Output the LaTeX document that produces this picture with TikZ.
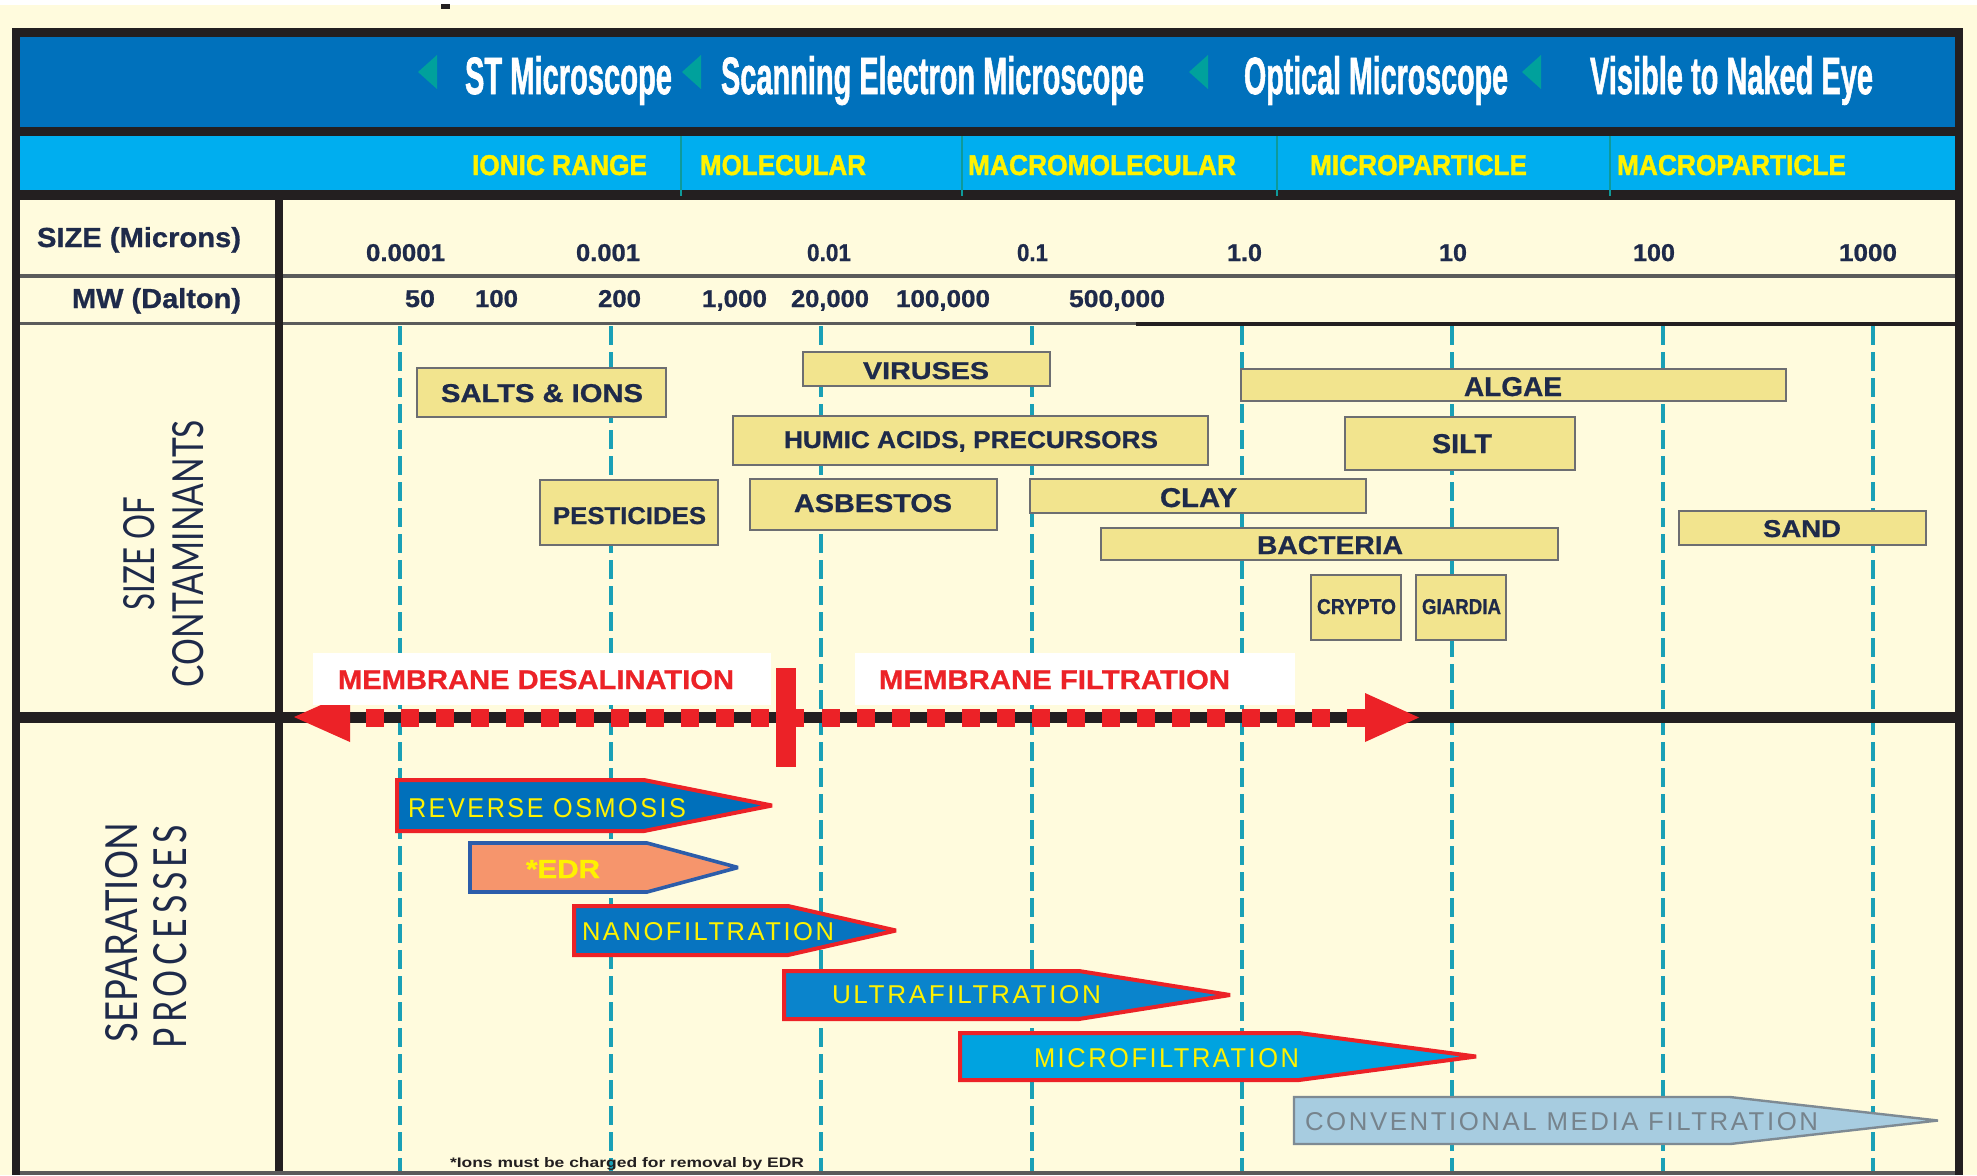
\documentclass[tikz,border=0pt]{standalone}
\usepackage{fontspec}
\usepackage{graphicx}
\setmainfont{Liberation Sans}
\newfontfamily\heavy{Liberation Sans}[BoldFeatures={FakeBold=1.6}]
\newfontfamily\semiheavy{Liberation Sans}[BoldFeatures={FakeBold=0.8}]
\newfontfamily\latof{Lato}
\newfontfamily\latosp{Lato}[LetterSpace=14]
\newfontfamily\spacedf{Liberation Sans}[LetterSpace=10]
\newlength\pxu \setlength\pxu{0.5pt}
\newcommand\fitt[3]{\resizebox{#1\pxu}{#2\pxu}{#3}}
\definecolor{cream}{HTML}{FFFBDD}
\definecolor{hdrblue}{HTML}{0071BC}
\definecolor{hdrcyan}{HTML}{00AEEF}
\definecolor{ylw}{HTML}{FFF200}
\definecolor{navy}{HTML}{1E2A4A}
\definecolor{boxfill}{HTML}{F2E48E}
\definecolor{boxline}{HTML}{6D6E71}
\definecolor{dashc}{HTML}{1AA0B6}
\definecolor{redc}{HTML}{EC2227}
\definecolor{tealtri}{HTML}{00A19C}
\definecolor{blk}{HTML}{231F20}
\definecolor{edrfill}{HTML}{F6956C}
\definecolor{edrline}{HTML}{2C5DAA}
\definecolor{rofill}{HTML}{0070BB}
\definecolor{nffill}{HTML}{0774C0}
\definecolor{uffill}{HTML}{0A84CC}
\definecolor{mffill}{HTML}{00A3E0}
\definecolor{cmffill}{HTML}{A7CCE0}
\definecolor{cmfline}{HTML}{7E8A93}
\definecolor{cmftext}{HTML}{76838C}
\definecolor{rowline}{HTML}{5B5B5B}
\definecolor{sepc}{HTML}{0E9A9A}
\begin{document}
\begin{tikzpicture}[x=0.5pt,y=-0.5pt,
  txt/.style={inner sep=0pt,outer sep=0pt,anchor=base west},
  cbox/.style={fill=boxfill,draw=boxline,line width=1.4pt},
  dline/.style={draw=dashc,line width=1.8pt,dash pattern=on 9.5pt off 3.5pt},
  proc/.style={draw=redc,line width=2pt,miter limit=2},
  ttl/.style={txt,text=white,font=\heavy\bfseries},
  band/.style={txt,text=ylw,font=\heavy\bfseries},
  num/.style={txt,text=navy,font=\semiheavy\bfseries},
  ctext/.style={txt,text=navy,font=\semiheavy\bfseries},
  ptext/.style={txt,text=ylw,font=\spacedf},
  mtext/.style={txt,text=redc,font=\semiheavy\bfseries},
  side/.style={txt,text=navy,rotate=90}]
\useasboundingbox (0,0) rectangle (1977,1175);
% background
\fill[white] (0,0) rectangle (1977,1175);
\fill[cream] (0,5) rectangle (1977,1175);
\fill[blk] (441,4) rectangle (450,9);
% header
\fill[blk] (12,28) rectangle (1963,200);
\fill[hdrblue] (20,37) rectangle (1955,127);
\fill[hdrcyan] (20,136) rectangle (1955,190);
\fill[cream] (20,200) rectangle (1955,1175);
% frame sides
\fill[blk] (12,28) rectangle (20,1175);
\fill[blk] (1955,28) rectangle (1963,1175);
% cyan separators
\foreach \sx in {681,962,1277,1610} \draw[sepc,line width=1pt] (\sx,136) -- (\sx,196);
% title triangles
\foreach \tx in {418,682,1189,1522} \fill[tealtri] (\tx,72) -- (\tx+19,55) -- (\tx+19,89) -- cycle;
% row lines
\fill[rowline] (20,274) rectangle (1955,278);
\fill[rowline] (20,322) rectangle (1136,325);
\fill[blk] (1136,321.5) rectangle (1955,325.5);
% dashed scale lines
\foreach \lx in {400,611,821,1032,1242,1452,1663,1873} \draw[dline] (\lx,326) -- (\lx,1171);
% column separator and thick divider
\fill[blk] (275,195) rectangle (283,1175);
\fill[blk] (16,712) rectangle (1959,723);
\fill[rowline] (20,1171) rectangle (1955,1175);
% header texts
\node[ttl] (t1) at (465,94) {\fitt{207}{38}{ST Microscope}};
\node[ttl] (t2) at (721,94) {\fitt{423}{38}{Scanning Electron Microscope}};
\node[ttl] (t3) at (1244,94) {\fitt{264}{38}{Optical Microscope}};
\node[ttl] (t4) at (1590,94) {\fitt{283}{38}{Visible to Naked Eye}};
\node[band] (b1) at (472,175) {\fitt{175}{20}{IONIC RANGE}};
\node[band] (b2) at (700,175) {\fitt{166}{20}{MOLECULAR}};
\node[band] (b3) at (968,175) {\fitt{268}{20}{MACROMOLECULAR}};
\node[band] (b4) at (1310,175) {\fitt{217}{20}{MICROPARTICLE}};
\node[band] (b5) at (1617,175) {\fitt{229}{20}{MACROPARTICLE}};
% row labels
\node[num] (sizel) at (37,247) {\fitt{204}{20}{SIZE (Microns)}};
\node[num] (mwl) at (72,308) {\fitt{169}{20}{MW (Dalton)}};
\node[num] (s1) at (366,261) {\fitt{79}{17}{0.0001}};
\node[num] (s2) at (576,261) {\fitt{64}{17}{0.001}};
\node[num] (s3) at (807,261) {\fitt{44}{17}{0.01}};
\node[num] (s4) at (1017,261) {\fitt{31}{17}{0.1}};
\node[num] (s5) at (1227,261) {\fitt{35}{17}{1.0}};
\node[num] (s6) at (1439,261) {\fitt{28}{17}{10}};
\node[num] (s7) at (1633,261) {\fitt{42}{17}{100}};
\node[num] (s8) at (1839,261) {\fitt{58}{17}{1000}};
\node[num] (m1) at (405,307) {\fitt{30}{17}{50}};
\node[num] (m2) at (475,307) {\fitt{43}{17}{100}};
\node[num] (m3) at (598,307) {\fitt{43}{17}{200}};
\node[num] (m4) at (702,307) {\fitt{65}{17}{1,000}};
\node[num] (m5) at (791,307) {\fitt{78}{17}{20,000}};
\node[num] (m6) at (896,307) {\fitt{94}{17}{100,000}};
\node[num] (m7) at (1069,307) {\fitt{96}{17}{500,000}};
% contaminant boxes
\draw[cbox] (417,368) rectangle (666,417);
\draw[cbox] (540,480) rectangle (718,545);
\draw[cbox] (803,352) rectangle (1050,386);
\draw[cbox] (733,416) rectangle (1208,465);
\draw[cbox] (750,479) rectangle (997,530);
\draw[cbox] (1030,479) rectangle (1366,513);
\draw[cbox] (1241,369) rectangle (1786,401);
\draw[cbox] (1345,417) rectangle (1575,470);
\draw[cbox] (1101,528) rectangle (1558,560);
\draw[cbox] (1311,575) rectangle (1401,640);
\draw[cbox] (1416,575) rectangle (1506,640);
\draw[cbox] (1679,511) rectangle (1926,545);
\node[ctext] (c1) at (441,402) {\fitt{202}{18}{SALTS \& IONS}};
\node[ctext] (c2) at (553,524) {\fitt{153}{17}{PESTICIDES}};
\node[ctext] (c3) at (863,379) {\fitt{126}{17}{VIRUSES}};
\node[ctext] (c4) at (784,448) {\fitt{374}{17}{HUMIC ACIDS, PRECURSORS}};
\node[ctext] (c5) at (794,512) {\fitt{158}{18}{ASBESTOS}};
\node[ctext] (c6) at (1160,507) {\fitt{77}{19}{CLAY}};
\node[ctext] (c7) at (1464,396) {\fitt{98}{19}{ALGAE}};
\node[ctext] (c8) at (1432,453) {\fitt{60}{19}{SILT}};
\node[ctext] (c9) at (1257,554) {\fitt{146}{18}{BACTERIA}};
\node[ctext] (c10) at (1763,537) {\fitt{78}{17}{SAND}};
\node[ctext] (c11) at (1317,614) {\fitt{79}{15}{CRYPTO}};
\node[ctext] (c12) at (1422,614) {\fitt{79}{15}{GIARDIA}};
% membrane arrow
\foreach \i in {0,...,28} \fill[redc] ({366+\i*35.04},708.5) rectangle +(18,18);
\fill[redc] (294,717) -- (350,692) -- (350,742) -- cycle;
\fill[redc] (1419,717.5) -- (1365,693) -- (1365,742) -- cycle;
\fill[white] (313,653) rectangle (771,705);
\fill[white] (855,653) rectangle (1295,705);
\fill[redc] (776,668) rectangle (796,767);
\node[mtext] (md) at (338,689) {\fitt{396}{19}{MEMBRANE DESALINATION}};
\node[mtext] (mf) at (879,689) {\fitt{351}{19}{MEMBRANE FILTRATION}};
% separation processes
\draw[proc,fill=rofill] (397,780) -- (644,780) -- (772,805.5) -- (644,831) -- (397,831) -- cycle;
\draw[draw=edrline,line width=1.8pt,miter limit=2,fill=edrfill] (470,843) -- (647,843) -- (738,867.5) -- (647,892) -- (470,892) -- cycle;
\draw[proc,fill=nffill] (574,906) -- (788,906) -- (896,930.5) -- (788,955) -- (574,955) -- cycle;
\draw[proc,fill=uffill] (784,971) -- (1079,971) -- (1230,995) -- (1079,1019) -- (784,1019) -- cycle;
\draw[proc,fill=mffill] (960,1033) -- (1299,1033) -- (1476,1056.5) -- (1299,1080) -- (960,1080) -- cycle;
\draw[draw=cmfline,line width=1.2pt,miter limit=2,fill=cmffill] (1294,1097) -- (1730,1097) -- (1938,1120.5) -- (1730,1144) -- (1294,1144) -- cycle;
\node[ptext] (p1) at (408,817) {\fitt{278}{19}{\spacedf REVERSE OSMOSIS}};
\node[txt,text=ylw,font=\semiheavy\bfseries] (p2) at (526,878) {\fitt{74}{18}{*EDR}};
\node[ptext] (p3) at (582,940) {\fitt{252}{18}{\spacedf NANOFILTRATION}};
\node[ptext] (p4) at (832,1003) {\fitt{269}{18}{\spacedf ULTRAFILTRATION}};
\node[ptext] (p5) at (1034,1067) {\fitt{265}{19}{\spacedf MICROFILTRATION}};
\node[ptext,text=cmftext] (p6) at (1305,1130) {\fitt{513}{18}{\spacedf CONVENTIONAL MEDIA FILTRATION}};
\node[txt,text=blk,font=\bfseries] (fn) at (450,1167) {\fitt{354}{10}{*Ions must be charged for removal by EDR}};
% side labels
\node[side] (sz1) at (154,610) {\fitt{113}{31}{\latof SIZE OF}};
\node[side] (sz2) at (203,687) {\fitt{267}{31}{\latof CONTAMINANTS}};
\node[side] (sp1) at (137,1042) {\fitt{219}{32}{\latof SEPARATION}};
\node[side] (sp2) at (186,1048) {\fitt{223}{33}{\latosp PROCESSES}};
\end{tikzpicture}
\end{document}
